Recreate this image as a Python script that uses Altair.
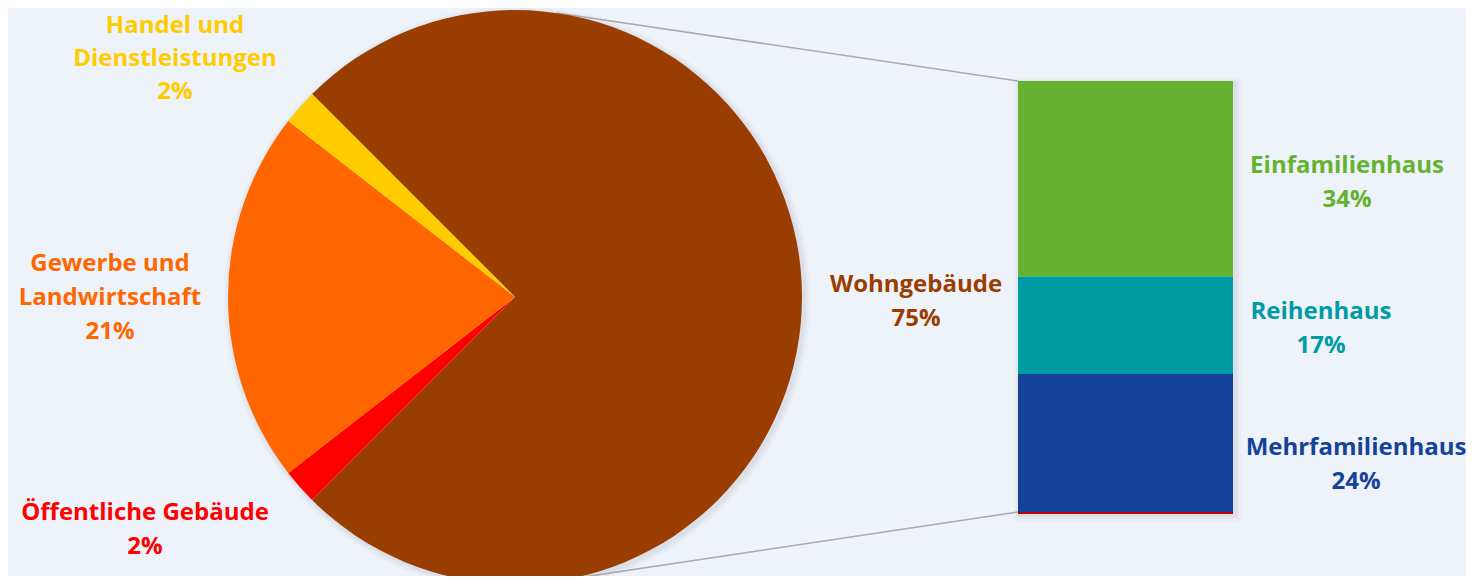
import math
import altair as alt
import pandas as pd

# ---- data ----
sectors = ["Wohngebäude", "Öffentliche Gebäude", "Gewerbe und Landwirtschaft", "Handel und Dienstleistungen"]
sector_share = [75, 2, 21, 2]
sector_colors = ["#9A3D00", "#FF0000", "#FF6600", "#FFCC00"]

house_types = ["Einfamilienhaus", "Reihenhaus", "Mehrfamilienhaus"]
house_share = [34, 17, 24]
house_colors = ["#64B22F", "#009BA3", "#16439A"]
house_stack_order = [2, 1, 0]

# ---- layout (page pixels, the plot origin sits at the 8px page margin) ----
M = 8
W, H = 1458, 568
CX, CY, R = 515, 297, 287
BAR_X0, BAR_X1 = 1018, 1233
BAR_TOP, BAR_BOTTOM = 81, 512
BG = "#EEF2F9"
FONT = "Open Sans"
FS = 24
LH = 34

label_lines = {
    "Handel und Dienstleistungen": ["Handel und", "Dienstleistungen"],
    "Gewerbe und Landwirtschaft": ["Gewerbe und", "Landwirtschaft"],
    "Öffentliche Gebäude": ["Öffentliche Gebäude"],
    "Wohngebäude": ["Wohngebäude"],
    "Einfamilienhaus": ["Einfamilienhaus"],
    "Reihenhaus": ["Reihenhaus"],
    "Mehrfamilienhaus": ["Mehrfamilienhaus"],
}
label_anchor = {
    "Handel und Dienstleistungen": (175, 26),
    "Gewerbe und Landwirtschaft": (110, 264),
    "Öffentliche Gebäude": (145, 513),
    "Wohngebäude": (916, 285),
    "Einfamilienhaus": (1347, 166),
    "Reihenhaus": (1321, 312),
    "Mehrfamilienhaus": (1356, 448),
}
label_step = {"Handel und Dienstleistungen": 33}

pie_df = pd.DataFrame({"name": sectors, "value": sector_share, "col": sector_colors,
                       "ord": list(range(len(sectors)))})
bar_df = pd.DataFrame({"name": house_types, "value": house_share, "col": house_colors,
                       "ord": house_stack_order})

rows = []
for names, vals, cols in [(sectors, sector_share, sector_colors), (house_types, house_share, house_colors)]:
    for n, v, c in zip(names, vals, cols):
        lines = label_lines[n] + [f"{v}%"]
        ax, ay = label_anchor[n]
        step = label_step.get(n, LH)
        for i, t in enumerate(lines):
            rows.append({"t": t, "col": c, "px": ax - M, "py": ay + i * step - M})
lab_df = pd.DataFrame(rows)

# tangent points for connector lines
def tangent(px, py, upper):
    dx, dy = px - CX, py - CY
    d = math.hypot(dx, dy)
    phi = math.atan2(dy, dx)
    a = math.acos(R / d)
    ang = phi - a if upper else phi + a
    return CX + R * math.cos(ang), CY + R * math.sin(ang)

t1 = tangent(BAR_X0, BAR_TOP, True)
t2 = tangent(BAR_X0, BAR_BOTTOM, False)

one = pd.DataFrame({"a": [1]})
layers = []

# soft shadows
for k, op in [(6, 0.04), (4, 0.05), (2, 0.07)]:
    layers.append(
        alt.Chart(one).mark_arc(radius=R + k, theta=0, theta2=2 * math.pi, color="#7A8090", opacity=op)
        .encode(x=alt.value(CX - M + 2), y=alt.value(CY - M + 2))
    )
    layers.append(
        alt.Chart(one).mark_rect(color="#7A8090", opacity=op)
        .encode(x=alt.value(BAR_X0 - M - k + 2), x2=alt.value(BAR_X1 - M + k + 2),
                y=alt.value(BAR_TOP - M - k + 3), y2=alt.value(BAR_BOTTOM - M + k + 3))
    )

# connectors
for (tx, ty), (bx, by) in [(t1, (BAR_X0, BAR_TOP)), (t2, (BAR_X0, BAR_BOTTOM))]:
    layers.append(
        alt.Chart(one).mark_rule(color="#AAAAAA", strokeWidth=1.6)
        .encode(x=alt.value(tx - M), y=alt.value(ty - M), x2=alt.value(bx - M), y2=alt.value(by - M))
    )

pie = alt.Chart(pie_df).mark_arc(radius=R).encode(
    theta=alt.Theta("value:Q", stack=True,
                    scale=alt.Scale(domain=[0, sum(sector_share)],
                                    range=[-math.pi / 4, 7 * math.pi / 4])),
    order=alt.Order("ord:Q"),
    color=alt.Color("col:N", scale=None),
    x=alt.value(CX - M),
    y=alt.value(CY - M),
)
layers.append(pie)

bar = alt.Chart(bar_df).transform_stack(
    stack="value", groupby=[], as_=["y0", "y1"], sort=[alt.SortField("ord", order="ascending")]
).mark_rect().encode(
    y=alt.Y("y0:Q", axis=None,
            scale=alt.Scale(domain=[0, sum(house_share)], range=[BAR_BOTTOM - M, BAR_TOP - M], nice=False, zero=True)),
    y2="y1:Q",
    color=alt.Color("col:N", scale=None),
    x=alt.value(BAR_X0 - M),
    x2=alt.value(BAR_X1 - M),
)
layers.append(bar)

base_line = alt.Chart(one).mark_rule(color="#B80000", strokeWidth=2).encode(
    x=alt.value(BAR_X0 - M), x2=alt.value(BAR_X1 - M), y=alt.value(BAR_BOTTOM - M + 1)
)
layers.append(base_line)

labels = alt.Chart(lab_df).mark_text(font=FONT, fontSize=FS, fontWeight="bold", align="center",
                                     baseline="middle").encode(
    text="t:N",
    x=alt.X("px:Q", scale=None, axis=None),
    y=alt.Y("py:Q", scale=None, axis=None),
    color=alt.Color("col:N", scale=None),
)
layers.append(labels)

chart = alt.layer(*layers).properties(
    width=W, height=H, padding=0, autosize=alt.AutoSizeParams(type="none"), background=BG
).configure_view(stroke=None).resolve_scale(y="independent", x="independent")

chart.save("out.html", embed_options={"renderer": "svg", "actions": False})
